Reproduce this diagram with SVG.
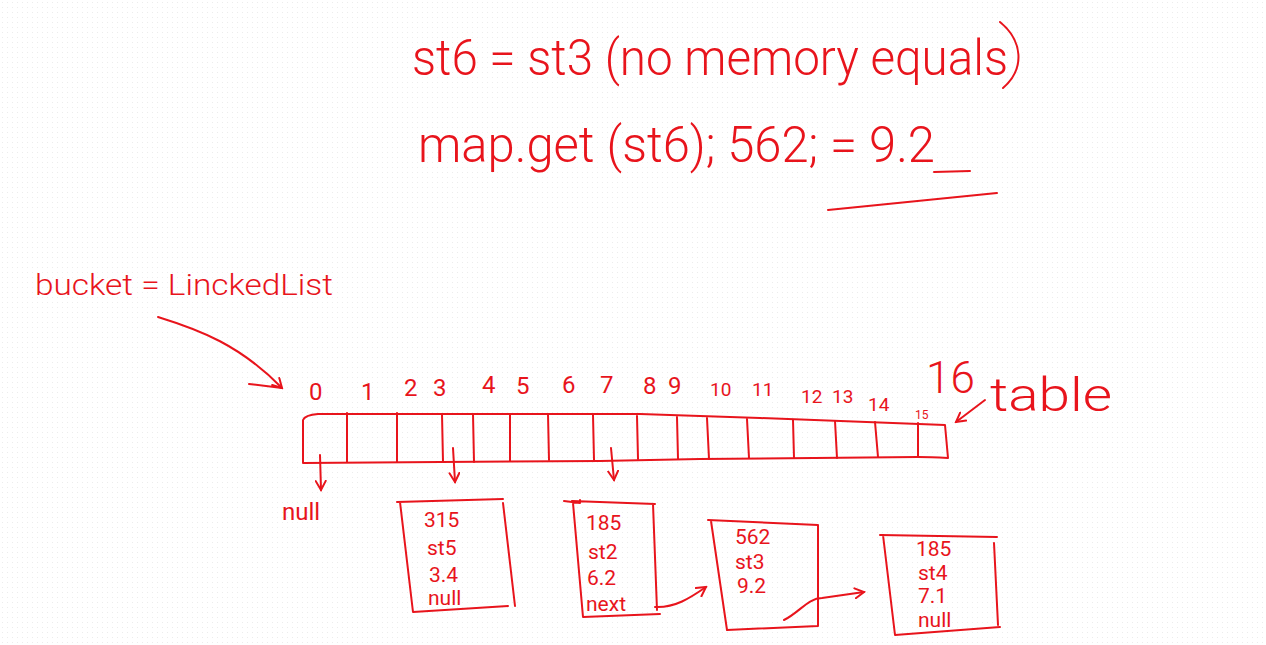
<svg xmlns="http://www.w3.org/2000/svg" width="1266" height="645" viewBox="0 0 1266 645">
<defs>
<pattern id="dots" width="5" height="5" patternUnits="userSpaceOnUse"><rect x="2" y="2" width="1" height="1" fill="#ececec"/></pattern>
<marker id="ah" viewBox="0 0 12 12" refX="10" refY="6" markerWidth="12" markerHeight="12" markerUnits="userSpaceOnUse" orient="auto"><path d="M1,1 L10,6 L1,11" fill="none" stroke="#e8141c" stroke-width="2" stroke-linecap="round"/></marker>
<style>
.s{fill:none;stroke:#e8141c;stroke-width:2;stroke-linecap:round;stroke-linejoin:round}
.t{fill:#e8141c;font-family:Roboto,"Liberation Sans",sans-serif;font-weight:300}
.r{font-weight:400}
.big{font-size:50px}
.mid{font-size:24px}
.nd{font-size:21px}
.sm{font-size:19px}
.xs{font-size:12px}
</style>
</defs>
<rect width="1266" height="645" fill="#ffffff"/>
<rect width="1266" height="645" fill="url(#dots)"/>

<g id="notes">
<text class="t big" x="412" y="75" textLength="596" lengthAdjust="spacingAndGlyphs">st6 = st3 (no memory equals</text>
<path class="s" d="M1000,22 C1022,40 1026,68 1003,88"/>
<text class="t big" x="418" y="162" textLength="517" lengthAdjust="spacingAndGlyphs">map.get (st6); 562; = 9.2</text>
<path class="s" d="M934,172 L970,171"/>
<path class="s" d="M828,210 L997,193"/>
</g>

<g id="bucket-label">
<text class="t" style="font-size:30px" x="35" y="295" textLength="298" lengthAdjust="spacingAndGlyphs">bucket = LinckedList</text>
</g>

<g id="table">
<path class="s" d="M303,420 Q305,415 318,414 L640,414 L760,418 L945,425 L948,458 Q930,457 918,457 L700,459 L600,461 L303,463 Z"/>
<path class="s" d="M347,413 L347,462 M397,413 L397,462 M442,414 L443,462 M473,414 L474,462 M510,414 L510,461 M548,414 L549,460 M593,415 L594,460 M637,416 L638,459 M677,417 L678,459 M707,418 L709,459 M747,419 L749,458 M793,420 L794,458 M835,421 L837,458 M875,422 L878,457 M918,423 L918,457"/>
<g class="t r mid">
<text x="309" y="400">0</text>
<text x="361" y="400">1</text>
<text x="404" y="396">2</text>
<text x="433" y="396">3</text>
<text x="482" y="393">4</text>
<text x="516" y="394">5</text>
<text x="562" y="393">6</text>
<text x="600" y="393">7</text>
<text x="643" y="394">8</text>
<text x="668" y="394">9</text>
</g>
<g class="t r sm">
<text x="710" y="396">10</text>
<text x="752" y="396">11</text>
<text x="801" y="403">12</text>
<text x="832" y="403">13</text>
<text x="868" y="411">14</text>
</g>
<text class="t r xs" x="915" y="419">15</text>
<text class="t" style="font-size:44px" x="926" y="393">16</text>
<text class="t" style="font-size:46px" x="990" y="411" textLength="122" lengthAdjust="spacingAndGlyphs">table</text>
</g>

<g id="null0"><text class="t r mid" x="282" y="520">null</text></g>

<g id="node1">
<path class="s" d="M397,502 L503,499 M400,502 L413,612 L508,606 M503,503 L515,606"/>
<text class="t r nd" x="424" y="527">315</text>
<text class="t r nd" x="427" y="555">st5</text>
<text class="t r nd" x="429" y="582">3.4</text>
<text class="t r nd" x="428" y="605">null</text>
</g>

<g id="node2">
<path class="s" d="M564,501 L580,503 L580,500 M573,503 L583,617 L660,614 M653,504 L657,610 M572,501 L655,504"/>
<text class="t r nd" x="586" y="530">185</text>
<text class="t r nd" x="588" y="559">st2</text>
<text class="t r nd" x="587" y="585">6.2</text>
<text class="t r nd" x="586" y="611">next</text>
</g>

<g id="node3">
<path class="s" d="M708,520 L818,525 M711,521 L727,630 L818,626 L818,525"/>
<text class="t r nd" x="735" y="544">562</text>
<text class="t r nd" x="735" y="569">st3</text>
<text class="t r nd" x="737" y="593">9.2</text>
</g>

<g id="node4">
<path class="s" d="M880,535 L997,537 M883,535 L895,635 L1000,627 M994,543 L998,625"/>
<text class="t r nd" x="916" y="556">185</text>
<text class="t r nd" x="918" y="580">st4</text>
<text class="t r nd" x="918" y="603">7.1</text>
<text class="t r nd" x="918" y="627">null</text>
</g>

<g id="connectors">
<path class="s" marker-end="url(#ah)" d="M158,317 C200,330 240,345 282,388"/>
<path class="s" d="M249,384 L282,388"/>
<path class="s" marker-end="url(#ah)" d="M985,400 L956,422"/>
<path class="s" marker-end="url(#ah)" d="M320,455 L321,490"/>
<path class="s" marker-end="url(#ah)" d="M453,448 L455,482"/>
<path class="s" marker-end="url(#ah)" d="M611,448 L614,480"/>
<path class="s" marker-end="url(#ah)" d="M655,607 C675,608 690,598 706,587"/>
<path class="s" marker-end="url(#ah)" d="M784,620 C800,612 808,598 822,598 L864,592"/>
</g>
</svg>
